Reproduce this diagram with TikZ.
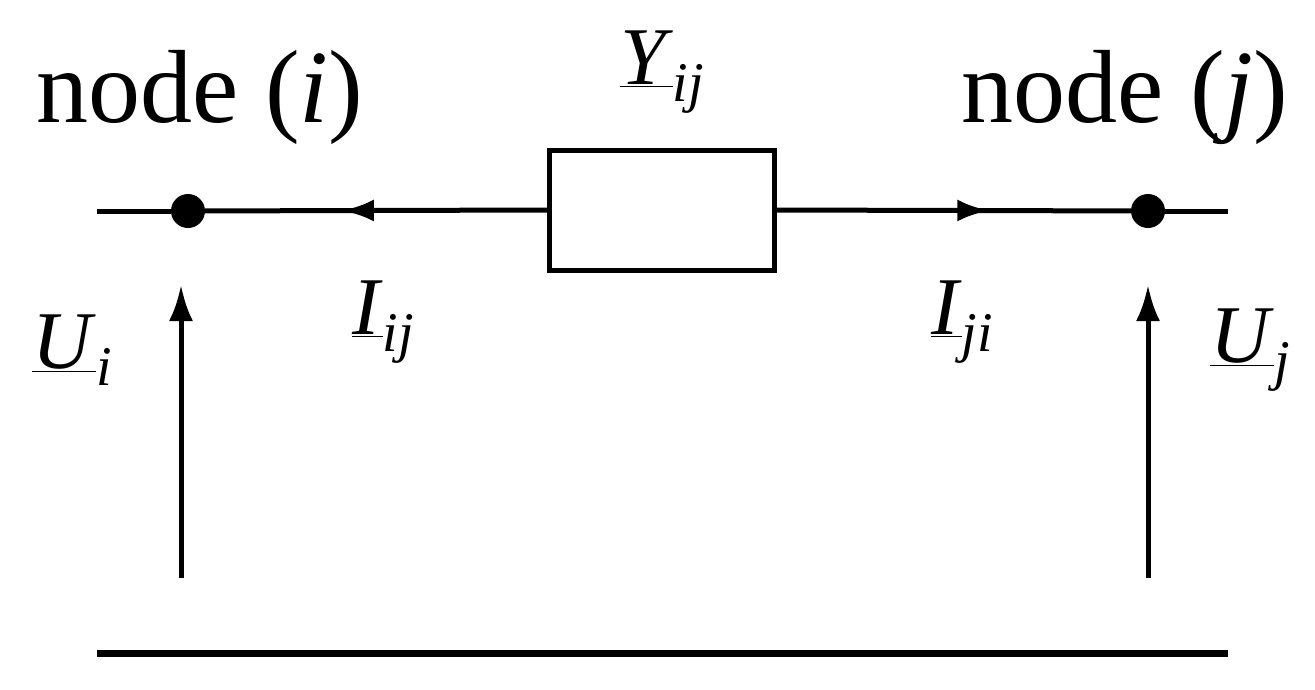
\documentclass[tikz,border=0pt]{standalone}
\usepackage{fontspec}
\setmainfont{Liberation Serif}
\usetikzlibrary{arrows.meta,decorations.markings}
\newcommand{\qlab}[2]{\underline{\textit{#1}}\raisebox{-0.2em}{\fontsize{56}{60}\selectfont\textit{#2}}}
\begin{document}
\begin{tikzpicture}[x=1pt,y=-1pt,
  wire/.style={line width=5pt},
  lbl/.style={font=\fontsize{104}{110}\selectfont, inner sep=0pt},
  sym/.style={font=\fontsize{82}{90}\selectfont, inner sep=0pt},
  dot/.style={circle,fill=black,minimum size=34pt,inner sep=0pt},
  tip/.style={-{Latex[length=36pt,width=24pt]}},
  midl/.style={postaction={decorate},decoration={markings,mark=at position #1 with {\arrow{Latex[length=32pt,width=22pt]}}}}]
\useasboundingbox (0,0) rectangle (1315,689);
\coordinate (L) at (97,211);
\coordinate (R) at (1228,211);
\node[dot] (di) at (188,211) {};
\node[dot] (dj) at (1148,211) {};
\node[draw,line width=5pt,minimum width=225pt,minimum height=120pt,inner sep=0pt] (Y) at (662,210) {};
\draw[wire] (L) -- (di);
\draw[wire,midl=0.6] (Y.west) -- (di);
\draw[wire,midl=0.6] (Y.east) -- (dj);
\draw[wire] (dj) -- (R);
\coordinate (B1) at (97,653);
\coordinate (B2) at (1228,653);
\draw[line width=7pt] (B1) -- (B2);
\coordinate (ui0) at (181,578);
\coordinate (ui1) at (181,285);
\coordinate (uj0) at (1148,578);
\coordinate (uj1) at (1148,285);
\draw[wire,tip] (ui0) -- (ui1);
\draw[wire,tip] (uj0) -- (uj1);
\node[lbl] (ni) at (200,97) {node (\textit{i})};
\node[lbl] (nj) at (1125,97) {node (\textit{j})};
\node[sym] (y) at (662,72) {\qlab{Y}{ij}};
\node[sym] (ui) at (72,350) {\qlab{U}{i}};
\node[sym] (uj) at (1250,350) {\qlab{U}{j}};
\node[sym] (iij) at (383,322) {\qlab{I}{ij}};
\node[sym] (iji) at (962,322) {\qlab{I}{ji}};
\end{tikzpicture}
\end{document}
